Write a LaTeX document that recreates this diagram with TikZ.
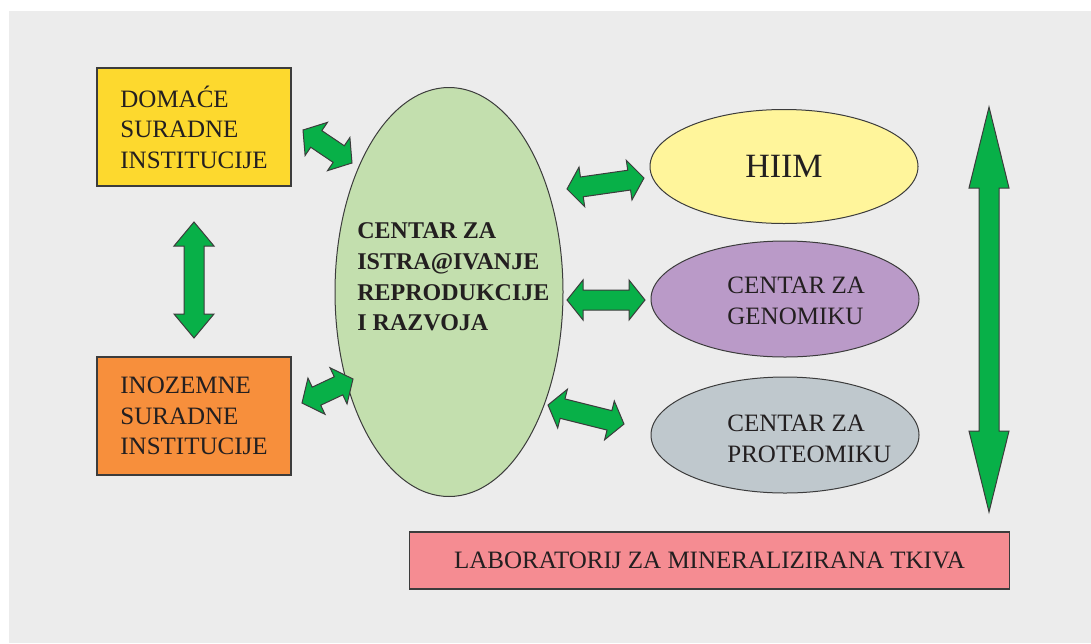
\documentclass[tikz,border=0pt]{standalone}
\usepackage{fontspec}
\setmainfont{Liberation Serif}
\usetikzlibrary{shapes.geometric,calc}

\definecolor{bggray}{RGB}{236,236,236}
\definecolor{edgegray}{RGB}{60,60,60}
\definecolor{textgray}{RGB}{35,31,32}
\definecolor{arrowgreen}{RGB}{8,176,72}
\definecolor{domyellow}{RGB}{253,217,46}
\definecolor{inoorange}{RGB}{247,143,60}
\definecolor{cirgreen}{RGB}{195,223,174}
\definecolor{hiimyellow}{RGB}{255,245,155}
\definecolor{genpurple}{RGB}{186,154,200}
\definecolor{protgray}{RGB}{191,200,205}
\definecolor{labpink}{RGB}{245,140,146}

\tikzset{
  box/.style={draw=edgegray,line width=0.6pt,minimum width=97pt,minimum height=59pt,
    align=left,text=textgray,font=\fontsize{12.5}{15.3}\selectfont},
  oval/.style={ellipse,draw=edgegray,line width=0.5pt,minimum width=134pt,minimum height=57pt,
    inner sep=0pt,text=textgray},
  txt/.style={anchor=west,align=left,inner sep=0pt,text=textgray,
    font=\fontsize{12.5}{15.3}\selectfont},
  arrowfill/.style={fill=arrowgreen,draw=edgegray,line width=0.5pt,line join=miter}
}

% block arrow with two heads: from, to, head length
\newcommand{\blockarrow}[3]{%
  \draw[arrowfill] let \p1=(#1), \p2=(#2),
      \n1={atan2(\y2-\y1,\x2-\x1)}, \n2={veclen(\x2-\x1,\y2-\y1)} in
    {[shift={(\p1)},rotate=\n1]
      (0pt,0pt) -- (#3,10pt) -- (#3,5pt) -- ({\n2-#3},5pt) -- ({\n2-#3},10pt)
      -- ({\n2+0pt},0pt) -- ({\n2-#3},-10pt) -- ({\n2-#3},-5pt) -- (#3,-5pt)
      -- (#3,-10pt) -- cycle};}

\begin{document}
\begin{tikzpicture}[x=0.5pt,y=-0.5pt]
  \useasboundingbox (0,0) rectangle (1091,643);
  \fill[bggray] (9,11) rectangle (1091,643);

  % left boxes
  \node (dom) at (194,127)[box,fill=domyellow]{DOMAĆE\\SURADNE\\INSTITUCIJE};
  \node (ino) at (194,416)[box,fill=inoorange]{INOZEMNE\\SURADNE\\INSTITUCIJE};

  % centre
  \node (cir) at (449,292)[ellipse,draw=edgegray,line width=0.5pt,fill=cirgreen,
    minimum width=114pt,minimum height=204.5pt]{};
  \node (cirtext) at (357,277)[txt,font=\fontsize{12}{15.3}\selectfont\bfseries]
    {CENTAR ZA\\ISTRA@IVANJE\\REPRODUKCIJE\\I RAZVOJA};

  % right ovals
  \node (hiim) at (784,166.5)[oval,fill=hiimyellow,font=\fontsize{17}{20}\selectfont]{HIIM};
  \node (gen) at (785,299)[oval,fill=genpurple,minimum height=58pt]{};
  \node (gentext) at (727,301)[txt]{CENTAR ZA\\GENOMIKU};
  \node (prot) at (785,435)[oval,fill=protgray,minimum height=58pt]{};
  \node (prottext) at (727,439)[txt]{CENTAR ZA\\PROTEOMIKU};

  % bottom box
  \node (lab) at (709.5,560.5)[box,fill=labpink,minimum width=300pt,minimum height=28.5pt]
    {LABORATORIJ ZA MINERALIZIRANA TKIVA};

  % arrow ends
  \coordinate (dom-a) at (303,130);
  \coordinate (cir-a) at (352,163);
  \coordinate (ino-a) at (302,403);
  \coordinate (cir-b) at (353,379);
  \coordinate (dom-b) at (194,222);
  \coordinate (ino-b) at (194,338);
  \coordinate (cir-c) at (567,189);
  \coordinate (hiim-a) at (644,178);
  \coordinate (cir-d) at (567,300);
  \coordinate (gen-a) at (645,300);
  \coordinate (cir-e) at (548,405);
  \coordinate (prot-a) at (624,424);
  \coordinate (top) at (989,107);
  \coordinate (bottom) at (989,512);

  \blockarrow{dom-a}{cir-a}{8pt}
  \blockarrow{ino-a}{cir-b}{8pt}
  \blockarrow{dom-b}{ino-b}{12pt}
  \blockarrow{cir-c}{hiim-a}{7.5pt}
  \blockarrow{cir-d}{gen-a}{8pt}
  \blockarrow{cir-e}{prot-a}{7.5pt}
  \blockarrow{top}{bottom}{40.5pt}
\end{tikzpicture}
\end{document}
